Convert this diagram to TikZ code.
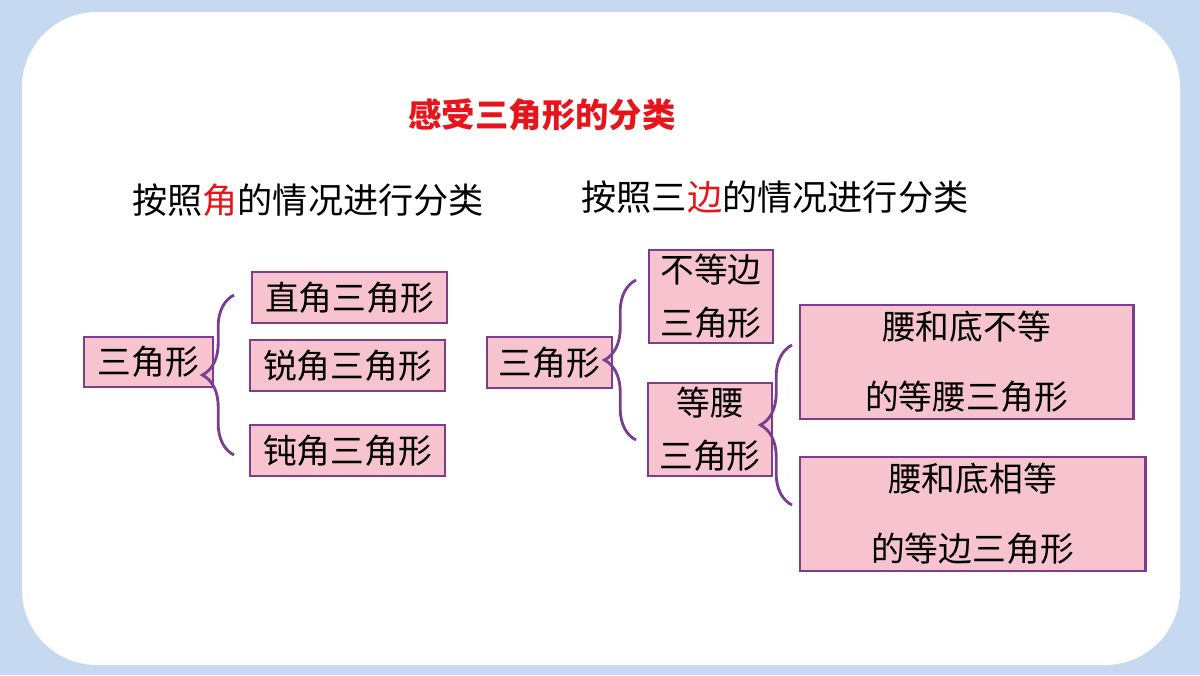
\documentclass[tikz,border=0pt]{standalone}
\usepackage{fontspec}
\setmainfont{Noto Sans CJK SC}
\usetikzlibrary{decorations.pathreplacing}
\definecolor{bgblue}{HTML}{C6D9F1}
\definecolor{boxpink}{HTML}{F6C3CE}
\definecolor{boxline}{HTML}{7A3E8E}
\definecolor{titlered}{HTML}{E8141B}
\begin{document}
\begin{tikzpicture}[x=0.01cm,y=-0.01cm,
    catbox/.style={draw=boxline,fill=boxpink,thick,inner sep=0pt,font=\fontsize{9.6pt}{15pt}\selectfont,align=center},
    grp/.style={draw=boxline,thick,decorate,decoration={brace,amplitude=9,mirror}}]
  \fill[bgblue] (0,0) rectangle (1200,675);
  \fill[white,rounded corners=0.75cm] (22,12) rectangle (1180,665);
  % headings
  \node[text=titlered,font=\fontsize{9.5pt}{11pt}\selectfont\bfseries] (title) at (542,115) {感受三角形的分类};
  \node[font=\fontsize{10pt}{12pt}\selectfont] (byangle) at (308,200) {按照\textcolor{titlered}{角}的情况进行分类};
  \node[font=\fontsize{10pt}{12pt}\selectfont] (byside) at (775,197) {按照三\textcolor{titlered}{边}的情况进行分类};
  % angle classification
  \node[catbox,minimum width=1.29cm,minimum height=0.5cm] (tri1) at (148.5,362) {三角形};
  \node[catbox,minimum width=1.95cm,minimum height=0.51cm] (right) at (349.5,297.5) {直角三角形};
  \node[catbox,minimum width=1.95cm,minimum height=0.51cm] (acute) at (347.5,365.5) {锐角三角形};
  \node[catbox,minimum width=1.95cm,minimum height=0.51cm] (obtuse) at (347.5,450.5) {钝角三角形};
  \draw[grp] (234,295) -- (234,455);
  % side classification
  \node[catbox,minimum width=1.25cm,minimum height=0.51cm] (tri2) at (549.5,362.5) {三角形};
  \node[catbox,minimum width=1.24cm,minimum height=0.93cm] (scalene) at (711,296.5) {不等边\\三角形};
  \node[catbox,minimum width=1.24cm,minimum height=0.93cm] (isos) at (710,429.5) {等腰\\三角形};
  \draw[grp] (636,280) -- (636,440);
  \node[catbox,minimum width=3.33cm,minimum height=1.14cm,font=\fontsize{9.6pt}{20pt}\selectfont] (unequal) at (966.5,362) {腰和底不等\\的等腰三角形};
  \node[catbox,minimum width=3.45cm,minimum height=1.14cm,font=\fontsize{9.6pt}{20pt}\selectfont] (equal) at (972.5,514) {腰和底相等\\的等边三角形};
  \draw[grp] (792,345) -- (792,505);
\end{tikzpicture}
\end{document}
